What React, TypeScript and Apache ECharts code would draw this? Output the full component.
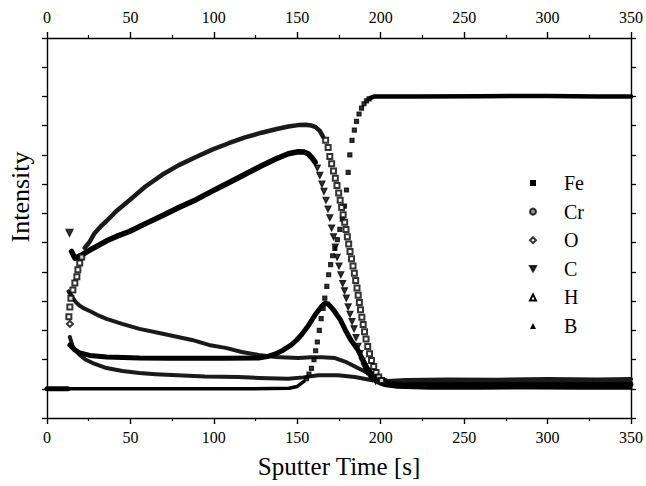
import React, { useEffect, useRef } from "react";
import * as echarts from "echarts";

// Sputter depth profile: intensity (arbitrary units) vs sputter time in seconds.
// Points are [time s, intensity]. Dense marker bands are drawn as thick traces,
// steep transitions as individual markers.

// all signals sit on zero before sputtering starts
const preSputter = [[0, 0], [12.5, 0]];

// Fe (filled squares)
const feLow = [[12.5, 0], [40, 0], [80, 0], [120, 0], [145, 0.02], [150, 0.08], [154, 0.25]];
const feRise = [
  [155.5, 0.35], [157, 0.5], [158.5, 0.7], [160, 1.0], [161, 1.3], [162, 1.6], [163.2, 2.0],
  [164.3, 2.4], [165.5, 2.75], [166.5, 3.1], [167.7, 3.5], [168.8, 3.9], [170, 4.25],
  [171.2, 4.55], [172.5, 4.8], [174, 5.1], [175.5, 5.45], [177, 5.8], [178.3, 6.25],
  [179.5, 6.8], [180.5, 7.4], [181.5, 8.0], [182.8, 8.5], [184.2, 8.85], [185.5, 9.15],
  [187, 9.4], [188.5, 9.6], [190, 9.75], [191.5, 9.85], [193, 9.92],
];
const feHigh = [[194, 9.95], [196, 10], [220, 10], [260, 10.01], [300, 10.02], [330, 10], [350, 10]];

// Cr (open squares)
const crRise = [
  [13.1, 2.46], [13.7, 2.8], [14.3, 3.1], [15.5, 3.38], [16.7, 3.62], [17.9, 3.83],
  [18.5, 4.07], [19.6, 4.3], [20.8, 4.51],
];
const crBand = [
  [22.6, 4.82], [25.6, 5.03], [28.6, 5.33], [32.7, 5.58], [35.7, 5.74], [42, 6.1], [49.4, 6.45],
  [59, 6.92], [69, 7.32], [79, 7.65], [89.3, 7.93], [99, 8.18], [108.9, 8.4], [118.7, 8.6],
  [128.6, 8.76], [137, 8.88], [144.6, 8.97], [150.6, 9.02], [155, 9.03], [158.3, 9.01],
  [161, 8.95], [163.5, 8.82], [165.5, 8.62],
];
const crDrop = [
  [167, 8.5], [168.5, 8.25], [169.5, 7.95], [170.6, 7.7], [171.7, 7.45], [172.8, 7.2],
  [173.8, 6.95], [174.8, 6.7], [175.7, 6.45], [176.6, 6.2], [177.5, 5.95], [178.4, 5.7],
  [179.2, 5.45], [180, 5.2], [180.8, 4.95], [181.6, 4.7], [182.5, 4.45], [183.4, 4.2],
  [184.2, 3.95], [185, 3.7], [185.8, 3.45], [186.5, 3.2], [187.2, 2.95], [187.9, 2.7],
  [188.7, 2.45], [189.5, 2.2], [190.3, 1.95], [191.2, 1.7], [192.2, 1.45], [193.3, 1.2],
  [194.5, 0.97], [195.8, 0.76], [197.2, 0.56], [198.8, 0.4], [200.5, 0.28],
];
const crTail = [[200.5, 0.28], [202, 0.2], [210, 0.12], [230, 0.08], [260, 0.07], [290, 0.08], [320, 0.07], [350, 0.08]];

// O (open diamonds)
const oStart = [[13.7, 2.22]];
const oBand = [
  [12.9, 3.33], [15.5, 3.11], [17.5, 2.95], [19.6, 2.84], [22.5, 2.74], [25.6, 2.66], [30, 2.53],
  [35.7, 2.39], [45, 2.22], [55.4, 2.05], [67.3, 1.91], [77, 1.79], [86.9, 1.67], [97, 1.5],
  [107.1, 1.4], [116.7, 1.26], [126.8, 1.16], [136.9, 1.09], [150.6, 1.05], [158.3, 1.08],
  [165, 1.08], [172.6, 1.05], [178.6, 0.93], [184.5, 0.76], [190.5, 0.59], [196.4, 0.42],
  [204.2, 0.27], [215, 0.3], [240, 0.32], [270, 0.31], [300, 0.33], [330, 0.32], [350, 0.33],
];

// C (filled down triangles)
const cStart = [[13.5, 5.33]];
const cBand = [
  [14.7, 4.7], [16.7, 4.47], [20, 4.55], [23.8, 4.68], [30, 4.88], [35.7, 5.06], [42, 5.22],
  [49.4, 5.38], [59, 5.65], [69, 5.92], [79, 6.2], [89.3, 6.47], [99, 6.76], [108.9, 7.05],
  [118.7, 7.34], [128.6, 7.63], [137, 7.86], [144.6, 8.04], [150.6, 8.11], [154, 8.1],
  [156.5, 8.04], [158.8, 7.9], [160.7, 7.75],
];
const cDrop = [
  [162, 7.55], [163.5, 7.3], [164.8, 7.0], [166, 6.75], [167.2, 6.45], [168.4, 6.15],
  [169.5, 5.85], [170.6, 5.5], [171.7, 5.2], [172.8, 4.85], [173.9, 4.5], [175, 4.2],
  [176.1, 3.9], [177.2, 3.6], [178.3, 3.35], [179.4, 3.1], [180.5, 2.8], [181.6, 2.55],
  [182.8, 2.3], [184, 2.05], [185.2, 1.75], [186.4, 1.45], [187.6, 1.2], [188.9, 0.95],
  [190.3, 0.75], [191.8, 0.58], [193.4, 0.45], [195, 0.35], [197, 0.26],
];
const cTail = [[197, 0.26], [199, 0.18], [203, 0.1], [210, 0.05], [230, 0.02], [260, 0.02], [290, 0.03], [320, 0.02], [350, 0.02]];

// H (open triangles)
const hBand = [
  [13.7, 1.77], [15.5, 1.43], [17.5, 1.28], [19.6, 1.16], [23, 1.0], [27.4, 0.88], [35.7, 0.71],
  [45.2, 0.61], [55.4, 0.54], [65, 0.5], [75, 0.47], [94.6, 0.42], [114.9, 0.4], [126.8, 0.37],
  [144.6, 0.34], [153.6, 0.39], [162.5, 0.46], [174.4, 0.46], [184.5, 0.4], [194, 0.3],
  [204.2, 0.23], [220, 0.2], [250, 0.21], [280, 0.2], [310, 0.21], [350, 0.2],
];

// B (filled triangles)
const bBand = [
  [13.7, 1.5], [16.7, 1.33], [19.6, 1.23], [25.6, 1.14], [35.7, 1.09], [55.4, 1.05], [73.2, 1.04],
  [91.1, 1.04], [107.1, 1.04], [126.8, 1.05], [132, 1.1], [136.9, 1.19], [141.5, 1.32],
  [146.4, 1.5], [149.5, 1.66], [152.4, 1.84], [156.5, 2.15], [160.7, 2.53], [164.3, 2.8],
  [166.7, 2.93], [168.5, 2.9], [171.4, 2.72], [175.6, 2.38], [178.6, 2.03], [182.1, 1.67],
  [186.3, 1.33], [189.3, 0.99], [192.3, 0.66], [196.4, 0.38], [202.4, 0.2], [210, 0.15],
  [240, 0.14], [270, 0.15], [300, 0.14], [350, 0.15],
];

const elements = ["Fe", "Cr", "O", "C", "H", "B"];
const timeMin = 0;
const timeMax = 350;
const timeStep = 50;
const intensityMin = -1;
const intensityMax = 12;

const SERIF = '"Liberation Serif", "DejaVu Serif", serif';
const INK = "#000";
const DOWN_TRIANGLE = "path://M0,0L10,0L5,9Z";

function trace(name: string, data: number[][], width: number, color = INK) {
  return {
    name,
    type: "line",
    data,
    symbol: "none",
    lineStyle: { color, width, cap: "round", join: "round" },
    itemStyle: { color: INK },
    z: 3,
  };
}

function markers(name: string, data: number[][], symbol: string, size: number, extra: any = {}) {
  return {
    name,
    type: "scatter",
    data,
    symbol,
    symbolSize: size,
    itemStyle: { color: INK, borderColor: INK, borderWidth: 1.2 },
    z: 4,
    ...extra,
  };
}

function timeAxis(position: "top" | "bottom", labelMargin: number, withName: boolean) {
  return {
    type: "value",
    position,
    min: timeMin,
    max: timeMax,
    interval: timeStep,
    axisLine: { show: true, onZero: false, lineStyle: { color: INK, width: 1.4 } },
    axisTick: { show: true, length: 6, lineStyle: { color: INK, width: 1.4 } },
    minorTick: { show: true, splitNumber: 2, length: 3, lineStyle: { color: INK, width: 1.2 } },
    splitLine: { show: false },
    axisLabel: { fontFamily: SERIF, fontSize: 16, color: INK, margin: labelMargin },
    ...(withName
      ? {
          name: "Sputter Time [s]",
          nameLocation: "middle",
          nameGap: 36,
          nameTextStyle: { fontFamily: SERIF, fontSize: 25, color: INK },
        }
      : {}),
  };
}

function intensityAxis(position: "left" | "right") {
  return {
    type: "value",
    position,
    min: intensityMin,
    max: intensityMax,
    interval: 1,
    axisLine: { show: true, onZero: false, lineStyle: { color: INK, width: 1.4 } },
    axisTick: { show: true, length: 5, lineStyle: { color: INK, width: 1.3 } },
    axisLabel: { show: false },
    splitLine: { show: false },
  };
}

const legendIcons: Record<string, any> = {
  Fe: { icon: "rect" },
  Cr: { icon: "circle", itemStyle: { color: "#777" } },
  O: { icon: "emptyDiamond" },
  C: { icon: DOWN_TRIANGLE },
  H: { icon: "emptyTriangle" },
  B: { icon: "triangle" },
};

const option: any = {
  animation: false,
  backgroundColor: "#fff",
  color: [INK],
  grid: { left: 47, right: 12, top: 38, bottom: 68, containLabel: false },
  xAxis: [timeAxis("bottom", 11, true), timeAxis("top", 13, false)],
  yAxis: [intensityAxis("left"), intensityAxis("right")],
  legend: {
    orient: "vertical",
    left: 529,
    top: 173,
    padding: 0,
    itemWidth: 6,
    itemHeight: 6,
    itemGap: 8.6,
    selectedMode: false,
    textStyle: { fontFamily: SERIF, fontSize: 20, lineHeight: 20, color: INK, padding: [0, 0, 0, 23] },
    data: elements.map((name) => ({ name, ...legendIcons[name] })),
  },
  graphic: [
    {
      type: "text",
      x: 20,
      y: 197,
      rotation: Math.PI / 2,
      style: {
        text: "Intensity",
        font: `26px ${SERIF}`,
        fill: INK,
        textAlign: "center",
        textVerticalAlign: "middle",
      },
    },
  ],
  series: [
    trace("Fe", preSputter, 5),
    trace("Fe", feLow, 3.5),
    markers("Fe", feRise, "rect", 4),
    trace("Fe", feHigh, 4.5),

    markers("Cr", crRise, "emptyRect", 5),
    trace("Cr", crBand, 4.5, "#1a1a1a"),
    markers("Cr", crDrop, "emptyRect", 5),
    trace("Cr", crTail, 3),

    markers("O", oStart, "emptyDiamond", 6),
    trace("O", oBand, 4, "#1a1a1a"),

    markers("C", cStart, "triangle", 7, { symbolRotate: 180 }),
    trace("C", cBand, 5.5),
    markers("C", cDrop, "triangle", 6, { symbolRotate: 180 }),
    trace("C", cTail, 3),

    trace("H", hBand, 4, "#1a1a1a"),

    trace("B", bBand, 5),
  ],
};

export default function App() {
  const ref = useRef<HTMLDivElement>(null);
  useEffect(() => {
    if (!ref.current) return;
    const chart = echarts.init(ref.current, null, { renderer: "svg" });
    chart.setOption(option);
    return () => chart.dispose();
  }, []);
  return (
    <div
      ref={ref}
      style={{ position: "fixed", left: 0, top: 0, width: 646, height: 486, background: "#fff" }}
    />
  );
}
